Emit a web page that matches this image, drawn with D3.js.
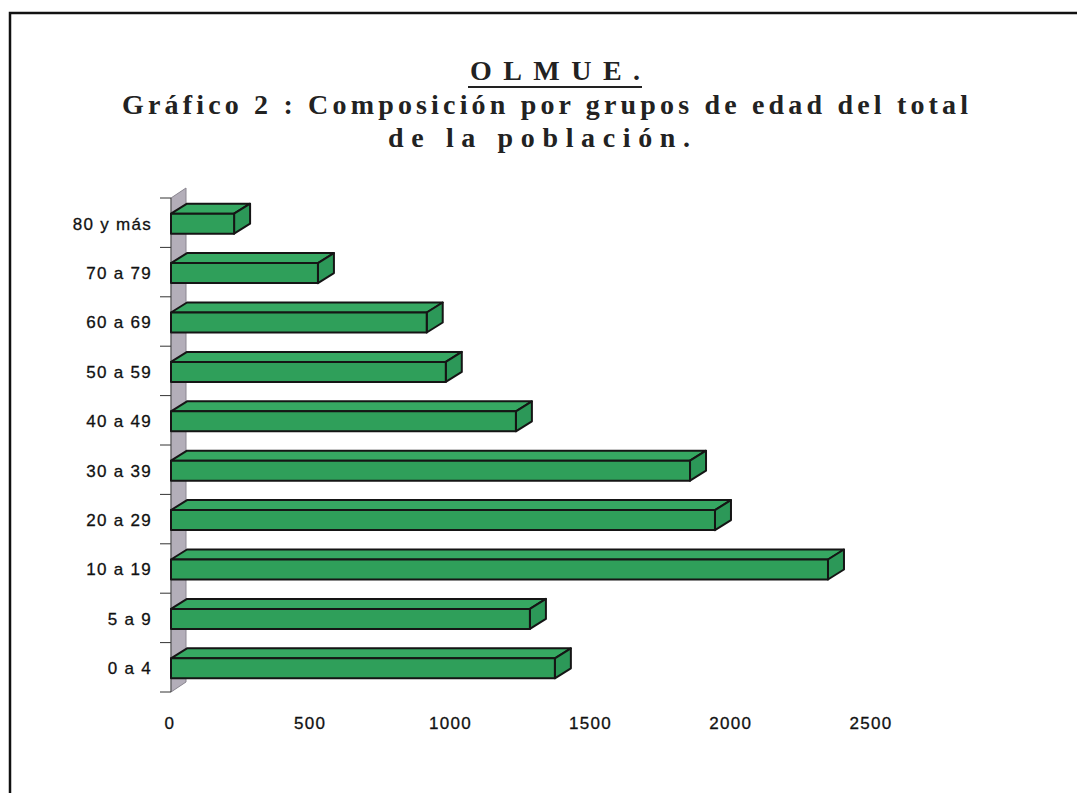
<!DOCTYPE html>
<html>
<head>
<meta charset="utf-8">
<script src="https://cdn.jsdelivr.net/npm/d3@7"></script>
<style>
  body { margin: 0; background: #fff; }
  svg { display: block; }
  .cat, .tick-label { font-family: "Liberation Sans", Arial, sans-serif; font-size: 17px; letter-spacing: 1.3px; fill: #111; stroke: #111; stroke-width: 0.3px; }
  .title { font-family: "Liberation Serif", "DejaVu Serif", serif; font-weight: bold; fill: #222; }
</style>
</head>
<body>
<svg id="chart" width="1077" height="793"></svg>
<script>
// age groups, top to bottom as drawn
var categories = ['80 y más', '70 a 79', '60 a 69', '50 a 59', '40 a 49', '30 a 39', '20 a 29', '10 a 19', '5 a 9', '0 a 4']
var values = [225, 524, 912, 980, 1230, 1851, 1940, 2343, 1280, 1369]
var tickValues = [0, 500, 1000, 1500, 2000, 2500]

var svg = d3.select('#chart')

// outer frame (only top and left edge show)
svg.append('rect')
  .attr('x', 10).attr('y', 13)
  .attr('width', 1100).attr('height', 820)
  .attr('fill', 'none')
  .attr('stroke', '#111')
  .attr('stroke-width', 2.5)

// titles
svg.append('text').attr('class', 'title')
  .attr('x', 555).attr('y', 80)
  .attr('text-anchor', 'middle')
  .attr('font-size', 28)
  .attr('textLength', 170).attr('lengthAdjust', 'spacing')
  .text('OLMUE.')
svg.append('line')
  .attr('x1', 468).attr('x2', 642)
  .attr('y1', 87).attr('y2', 87)
  .attr('stroke', '#222').attr('stroke-width', 2)

svg.append('text').attr('class', 'title')
  .attr('x', 545).attr('y', 114)
  .attr('text-anchor', 'middle')
  .attr('font-size', 28)
  .attr('textLength', 846).attr('lengthAdjust', 'spacing')
  .text('Gráfico 2 : Composición por grupos de edad del total')
svg.append('text').attr('class', 'title')
  .attr('x', 539).attr('y', 147)
  .attr('text-anchor', 'middle')
  .attr('font-size', 28)
  .attr('textLength', 302).attr('lengthAdjust', 'spacing')
  .text('de la población.')

var x = d3.scaleLinear().domain([0, 2500]).range([171, 872])
var y = d3.scaleBand().domain(categories).range([198, 692])

var dx = 16, dy = -10   // 3d depth offset
var barH = 20

// side wall
var y0 = y.range()[0], y1 = y.range()[1]
svg.append('path')
  .attr('d', 'M' + x(0) + ',' + y0 + 'L' + (x(0) + dx - 1) + ',' + (y0 + dy) +
    'L' + (x(0) + dx - 1) + ',' + (y1 + dy) + 'L' + x(0) + ',' + y1 + 'Z')
  .attr('fill', '#b3aeb9')
  .attr('stroke', '#8a8690')
  .attr('stroke-width', 1)
svg.append('line')
  .attr('x1', x(0)).attr('x2', x(0))
  .attr('y1', y0).attr('y2', y1)
  .attr('stroke', '#555').attr('stroke-width', 1)

// category ticks at band edges
var edges = categories.map(function(c) { return y(c) }).concat([y1])
svg.selectAll('.ytick').data(edges).enter().append('line')
  .attr('class', 'ytick')
  .attr('x1', x(0) - 11).attr('x2', x(0))
  .attr('y1', function(d) { return d }).attr('y2', function(d) { return d })
  .attr('stroke', '#333').attr('stroke-width', 1)

// bars
var bars = svg.selectAll('.bar').data(categories).enter().append('g').attr('class', 'bar')
bars.each(function(c, i) {
  var g = d3.select(this)
  var top = y(c) + (y.bandwidth() - barH) / 2 + 1
  var bot = top + barH
  var xl = x(0), xr = x(values[i])
  // top face
  g.append('path')
    .attr('d', 'M' + xl + ',' + top + 'L' + (xl + dx) + ',' + (top + dy) + 'L' + (xr + dx) + ',' + (top + dy) + 'L' + xr + ',' + top + 'Z')
    .attr('fill', '#36a862')
  // end face
  g.append('path')
    .attr('d', 'M' + xr + ',' + top + 'L' + (xr + dx) + ',' + (top + dy) + 'L' + (xr + dx) + ',' + (bot + dy) + 'L' + xr + ',' + bot + 'Z')
    .attr('fill', '#2c9858')
  // front face
  g.append('rect')
    .attr('x', xl).attr('y', top)
    .attr('width', xr - xl).attr('height', barH)
    .attr('fill', '#2f9f5a')
  g.selectAll('path, rect')
    .attr('stroke', '#151515')
    .attr('stroke-width', 2)
    .attr('stroke-linejoin', 'round')
})

// category labels
svg.selectAll('.cat').data(categories).enter().append('text')
  .attr('class', 'cat')
  .attr('x', 152)
  .attr('y', function(d) { return y(d) + y.bandwidth() / 2 + 1 })
  .attr('dy', '0.35em')
  .attr('text-anchor', 'end')
  .text(function(d) { return d })

// value axis labels
svg.selectAll('.tick-label').data(tickValues).enter().append('text')
  .attr('class', 'tick-label')
  .attr('x', function(d) { return x(d) - 1 })
  .attr('y', 729)
  .attr('text-anchor', 'middle')
  .text(function(d) { return d })
</script>
</body>
</html>
